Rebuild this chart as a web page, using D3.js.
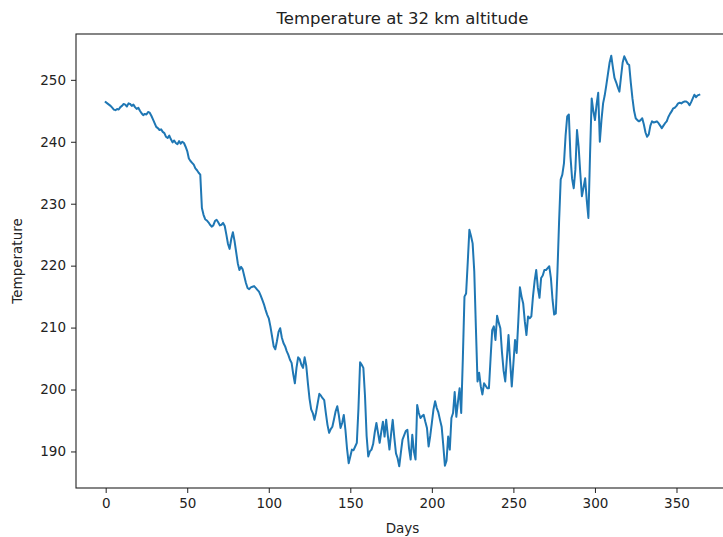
<!DOCTYPE html>
<html>
<head>
<meta charset="utf-8">
<script src="https://cdn.jsdelivr.net/npm/d3@7"></script>
<style>
  body { margin: 0; background: #fff; }
  svg { font-family: "DejaVu Sans", sans-serif; }
</style>
</head>
<body>
<svg></svg>
<script>
// daily temperature values (day 0 .. 364)
let temps = [
  246.4, 246.2, 246.0, 245.8, 245.5, 245.2, 245.1, 245.3, 245.2, 245.6,
  245.8, 246.1, 246.0, 245.7, 246.2, 246.1, 245.8, 246.0, 245.6, 245.3,
  245.5, 245.0, 244.6, 244.3, 244.5, 244.4, 244.8, 244.7, 244.2, 243.6,
  243.0, 242.4, 242.2, 241.9, 242.0, 241.6, 241.4, 240.8, 240.6, 241.0,
  240.4, 239.9, 240.2, 239.8, 239.6, 240.1, 239.7, 240.0, 239.8, 239.2,
  238.5, 237.3, 236.9, 236.6, 236.3, 235.7, 235.4, 235.0, 234.7, 229.3,
  228.2, 227.5, 227.3, 227.0, 226.6, 226.3, 226.5, 227.2, 227.4, 227.0,
  226.5, 226.6, 226.9, 226.4, 225.0, 223.5, 222.7, 224.3, 225.4, 224.0,
  222.2, 220.4, 219.3, 219.8, 219.4, 218.3, 217.2, 216.4, 216.2, 216.5,
  216.6, 216.7, 216.4, 216.1, 215.8, 215.2, 214.5, 213.8, 212.9, 212.1,
  211.5, 210.2, 208.6, 207.0, 206.5, 207.8, 209.3, 209.9, 208.4, 207.5,
  207.0, 206.2, 205.6, 204.8, 204.3, 202.5, 201.0, 203.5, 205.2, 204.9,
  204.0, 203.5, 205.2, 203.8, 201.0, 198.5, 196.8, 196.2, 195.1, 196.3,
  197.8, 199.3, 199.0, 198.6, 198.3, 196.2, 194.3, 193.0, 193.6, 194.0,
  195.2, 196.5, 197.3, 195.8, 193.8, 194.6, 195.9, 193.5, 190.4, 188.1,
  189.2, 190.3, 190.2, 190.8, 191.4, 197.0, 204.4, 204.0, 203.5, 199.0,
  192.5, 189.2, 190.0, 190.3, 191.2, 193.1, 194.6, 193.0, 191.4, 193.2,
  194.8, 192.4, 195.1, 192.6, 190.3, 192.8, 195.1, 192.2, 189.7, 188.9,
  187.6, 189.8, 191.9, 192.6, 193.3, 193.5, 190.5, 188.7, 192.7, 190.0,
  188.7, 197.5, 196.2, 195.4, 195.7, 195.9, 194.8, 193.8, 190.8, 192.5,
  194.6, 196.8, 198.1, 197.0, 196.3, 195.1, 194.0, 191.0, 187.7, 188.5,
  192.4, 190.3, 195.4, 196.2, 199.6, 195.6, 198.0, 200.2, 196.2, 205.0,
  215.0, 215.5, 220.5, 225.8, 224.8, 223.6, 219.1, 210.0, 201.3, 202.7,
  200.5, 199.2, 201.0, 200.6, 200.2, 200.2, 205.0, 209.6, 210.2, 208.0,
  211.9, 210.8, 209.9, 206.0, 203.0, 201.3, 205.0, 208.8, 204.5, 200.5,
  204.2, 208.0, 205.9, 211.0, 216.5, 215.0, 213.9, 211.0, 208.8, 211.8,
  211.5, 211.8, 215.0, 217.5, 219.3, 216.4, 214.8, 218.0, 218.4, 219.3,
  219.3, 219.6, 219.9, 218.0, 214.5, 212.1, 212.3, 219.0, 227.0, 233.9,
  234.7, 236.5, 241.0, 244.1, 244.4, 237.6, 234.0, 232.5, 235.5, 241.9,
  239.2, 235.0, 231.2, 232.6, 234.1, 230.5, 227.7, 238.0, 247.0, 245.0,
  243.5, 246.0, 247.9, 240.0, 243.5, 246.2, 247.5, 249.2, 251.0, 252.8,
  253.9, 252.0, 250.3, 249.6, 248.8, 248.1, 250.5, 252.8, 253.8, 253.2,
  252.6, 252.4, 249.5, 247.0, 245.0, 243.8, 243.5, 243.3, 243.5, 243.8,
  242.8, 241.5, 240.8, 241.2, 242.6, 243.3, 243.1, 243.2, 243.3, 243.0,
  242.6, 242.2, 242.6, 243.0, 243.3, 244.0, 244.5, 244.9, 245.4, 245.5,
  245.8, 246.2, 246.3, 246.2, 246.4, 246.5, 246.5, 246.3, 245.9, 246.4,
  247.0, 247.6, 247.2, 247.5, 247.6
]
let days = temps.map((t, i) => i)

let xTicks = [0, 50, 100, 150, 200, 250, 300, 350]
let yTicks = [190, 200, 210, 220, 230, 240, 250]

let width = 723
let height = 537
let plotLeft = 76
let plotRight = 729
let plotTop = 34
let plotBottom = 488

let svg = d3.select('svg')
    .attr('width', width)
    .attr('height', height)

// matplotlib style 5% margins around the data
let xPad = (d3.max(days) - d3.min(days)) * 0.05
let xScale = d3.scaleLinear()
    .domain([d3.min(days) - xPad, d3.max(days) + xPad])
    .range([plotLeft, plotRight])

let yScale = d3.scaleLinear()
    .domain([184.1, 257.4])
    .range([plotBottom, plotTop])

// line
let line = d3.line()
    .x((d, i) => xScale(days[i]))
    .y(d => yScale(d))

svg.append('path')
    .datum(temps)
    .attr('d', line)
    .attr('fill', 'none')
    .attr('stroke', '#1f77b4')
    .attr('stroke-width', 2)
    .attr('stroke-linejoin', 'round')
    .attr('stroke-linecap', 'square')

// axes
let xAxis = d3.axisBottom(xScale)
    .tickValues(xTicks)
    .tickSizeInner(5)
    .tickSizeOuter(0)
    .tickPadding(5)

let yAxis = d3.axisLeft(yScale)
    .tickValues(yTicks)
    .tickSizeInner(5)
    .tickSizeOuter(0)
    .tickPadding(5)

let gx = svg.append('g')
    .attr('transform', 'translate(0,' + plotBottom + ')')
    .call(xAxis)

let gy = svg.append('g')
    .attr('transform', 'translate(' + plotLeft + ',0)')
    .call(yAxis)

for (let g of [gx, gy]) {
    g.select('.domain').remove()
    g.selectAll('line').attr('stroke', '#222').attr('stroke-width', 1)
    g.selectAll('text')
        .attr('fill', '#222')
        .style('font-size', '13.5px')
        .style('font-family', '"DejaVu Sans", sans-serif')
}

// spines
svg.append('rect')
    .attr('x', plotLeft)
    .attr('y', plotTop)
    .attr('width', plotRight - plotLeft)
    .attr('height', plotBottom - plotTop)
    .attr('fill', 'none')
    .attr('stroke', '#222')
    .attr('stroke-width', 1.1)

// title and labels
svg.append('text')
    .attr('x', (plotLeft + plotRight) / 2)
    .attr('y', 24)
    .attr('text-anchor', 'middle')
    .attr('fill', '#222')
    .style('font-size', '16.5px')
    .text('Temperature at 32 km altitude')

svg.append('text')
    .attr('x', (plotLeft + plotRight) / 2)
    .attr('y', 533)
    .attr('text-anchor', 'middle')
    .attr('fill', '#222')
    .style('font-size', '13.5px')
    .text('Days')

svg.append('text')
    .attr('transform', 'translate(22,' + (plotTop + plotBottom) / 2 + ') rotate(-90)')
    .attr('text-anchor', 'middle')
    .attr('fill', '#222')
    .style('font-size', '13.5px')
    .text('Temperature')
</script>
</body>
</html>
